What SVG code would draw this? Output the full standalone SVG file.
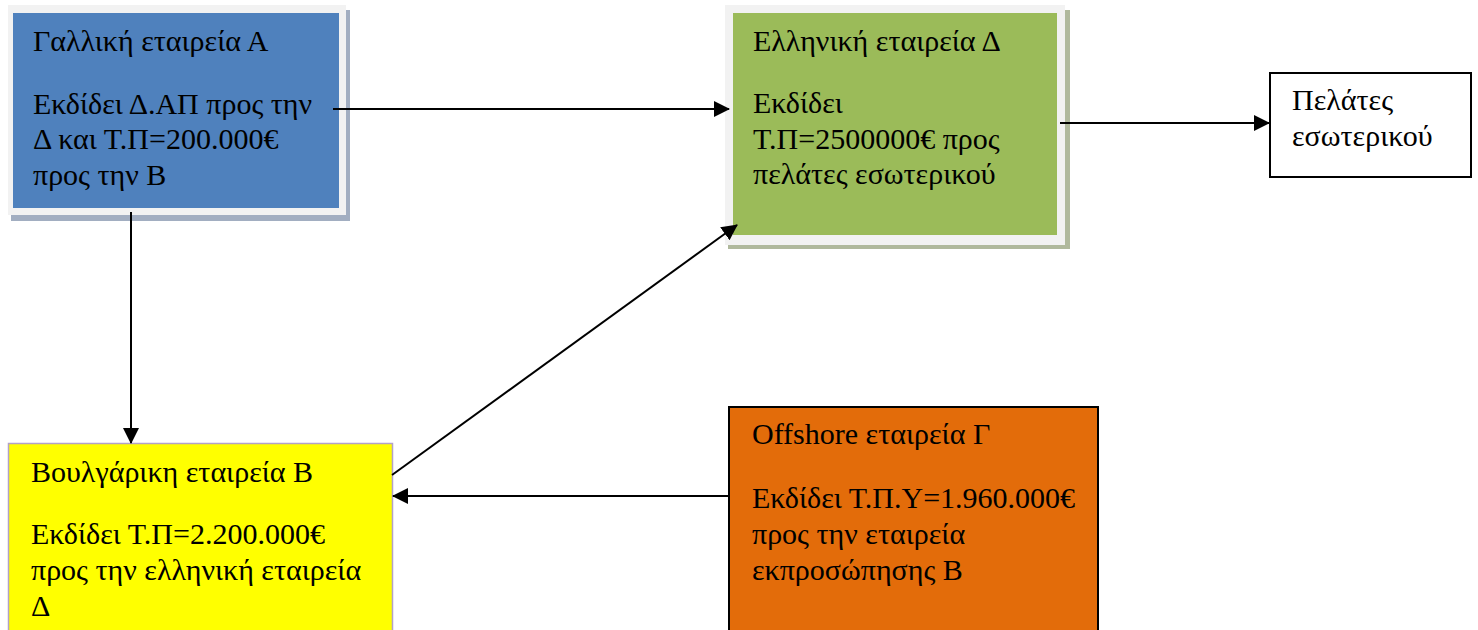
<svg xmlns="http://www.w3.org/2000/svg" width="1478" height="630" viewBox="0 0 1478 630">
  <style>
    text { font-family: "Liberation Serif", "DejaVu Serif", serif; font-size: 30px; fill: #000; }
    .link { stroke: #000; stroke-width: 2; fill: none; marker-end: url(#head); }
  </style>
  <defs>
    <marker id="head" viewBox="0 0 16 16" refX="15" refY="8" markerWidth="16" markerHeight="16" markerUnits="userSpaceOnUse" orient="auto">
      <path d="M0,0 L16,8 L0,16 Z" fill="#000"/>
    </marker>
  </defs>
  <rect width="1478" height="630" fill="#fff"/>

  <!-- French company A -->
  <g id="node-a">
    <rect x="11" y="10" width="339" height="211" fill="#a2aec1"/>
    <rect x="8" y="5" width="338" height="210" fill="#f2f2f2"/>
    <rect x="13" y="13" width="326" height="195" fill="#4f81bd"/>
    <text x="33" y="51">Γαλλική εταιρεία Α</text>
    <text x="33" y="114">Εκδίδει Δ.ΑΠ προς την</text>
    <text x="33" y="149">Δ και Τ.Π=200.000€</text>
    <text x="33" y="185">προς την Β</text>
  </g>

  <!-- Greek company D -->
  <g id="node-d">
    <rect x="728" y="10" width="342" height="239" fill="#b0b99d"/>
    <rect x="725" y="5" width="340" height="240" fill="#f2f2f2"/>
    <rect x="733" y="13" width="324" height="222" fill="#9bbb59"/>
    <text x="753" y="51">Ελληνική εταιρεία Δ</text>
    <text x="753" y="113">Εκδίδει</text>
    <text x="753" y="149">Τ.Π=2500000€ προς</text>
    <text x="753" y="184">πελάτες εσωτερικού</text>
  </g>

  <!-- Domestic customers -->
  <g id="node-customers">
    <rect x="1270" y="73" width="201" height="104" fill="#fff" stroke="#000" stroke-width="2"/>
    <text x="1292" y="110">Πελάτες</text>
    <text x="1292" y="146">εσωτερικού</text>
  </g>

  <!-- Bulgarian company B -->
  <g id="node-b">
    <rect x="8.5" y="443.5" width="384" height="200" fill="#ffff00" stroke="#b3a2c7" stroke-width="1.5"/>
    <text x="31" y="482">Βουλγάρικη εταιρεία Β</text>
    <text x="31" y="544">Εκδίδει Τ.Π=2.200.000€</text>
    <text x="31" y="580">προς την ελληνική εταιρεία</text>
    <text x="31" y="616">Δ</text>
  </g>

  <!-- Offshore company G -->
  <g id="node-g">
    <rect x="729" y="407" width="369" height="240" fill="#e36c0a" stroke="#000" stroke-width="2"/>
    <text x="752" y="444">Offshore εταιρεία Γ</text>
    <text x="752" y="508">Εκδίδει Τ.Π.Υ=1.960.000€</text>
    <text x="752" y="544">προς την εταιρεία</text>
    <text x="752" y="580">εκπροσώπησης Β</text>
  </g>

  <!-- Connectors -->
  <g id="connectors">
    <line class="link" x1="333" y1="109" x2="729" y2="109"/>
    <line class="link" x1="1060" y1="123" x2="1269" y2="123"/>
    <line class="link" x1="131" y1="212" x2="131" y2="443"/>
    <line class="link" x1="392" y1="475" x2="737" y2="225"/>
    <line class="link" x1="728" y1="496" x2="393" y2="496"/>
  </g>
</svg>
